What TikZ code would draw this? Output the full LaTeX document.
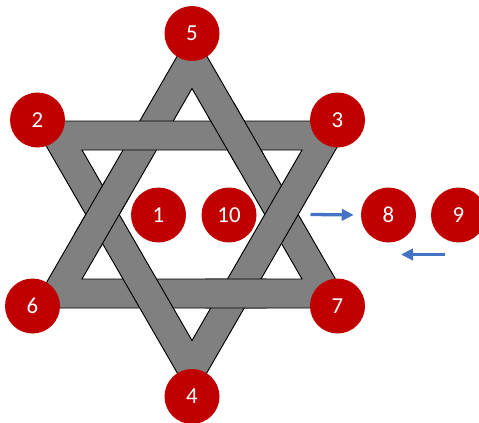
\documentclass[tikz,border=0pt]{standalone}
\usepackage{fontspec}
\setmainfont{Carlito}
\usetikzlibrary{arrows.meta}
\definecolor{starred}{HTML}{C00000}
\definecolor{bandgray}{HTML}{808080}
\definecolor{arrowblue}{HTML}{4472C4}
\begin{document}
\begin{tikzpicture}[x=0.03cm, y=-0.03cm,
    band/.style={fill=bandgray, draw=black, line width=0.8pt, even odd rule},
    dot/.style={circle, fill=starred, text=white, minimum size=1.65cm, inner sep=0pt, font=\fontsize{19.5}{21}\selectfont},
    flow/.style={draw=arrowblue, line width=2.8pt, -{Triangle[length=0.36cm, width=0.34cm, fill=arrowblue]}}]
    \useasboundingbox (0,0) rectangle (479,423);
    \coordinate (U5) at (192,30.5); \coordinate (U6) at (31.8,308); \coordinate (U7) at (352.2,308);
    \coordinate (u5) at (192,88.5); \coordinate (u6) at (82,279); \coordinate (u7) at (302,279);
    \coordinate (D2) at (31.8,121); \coordinate (D3) at (352.2,121); \coordinate (D4) at (192,398.5);
    \coordinate (d2) at (82,150); \coordinate (d3) at (302,150); \coordinate (d4) at (192,340.5);
    \draw[band] (U5) -- (U6) -- (U7) -- cycle (u5) -- (u6) -- (u7) -- cycle;
    \draw[band] (D2) -- (D3) -- (D4) -- cycle (d2) -- (d3) -- (d4) -- cycle;
    \foreach \cx/\cy in {102.6/214.5, 235.8/135.5, 235.8/293.5} {
        \begin{scope}
            \clip (\cx,\cy) circle (34);
            \draw[band] (U5) -- (U6) -- (U7) -- cycle (u5) -- (u6) -- (u7) -- cycle;
        \end{scope}
    }
    \node[dot] (n5) at (192,33.5) {5};
    \node[dot] (n2) at (37.5,120) {2};
    \node[dot] (n3) at (337.5,120) {3};
    \node[dot] (n6) at (32.5,306) {6};
    \node[dot] (n7) at (337.5,306) {7};
    \node[dot] (n4) at (192,396.5) {4};
    \node[dot] (n1) at (158.5,215) {1};
    \node[dot] (n10) at (229,215) {10};
    \node[dot] (n8) at (388.5,215) {8};
    \node[dot] (n9) at (458.5,215) {9};
    \coordinate (inflow) at (310.5,214.5);
    \draw[flow, shorten >=0.21cm] (inflow) -- (n8.west);
    \coordinate (backstart) at (444.5,254.5);
    \coordinate (backend) at (401,254.5);
    \draw[flow] (backstart) -- (backend);
\end{tikzpicture}
\end{document}
